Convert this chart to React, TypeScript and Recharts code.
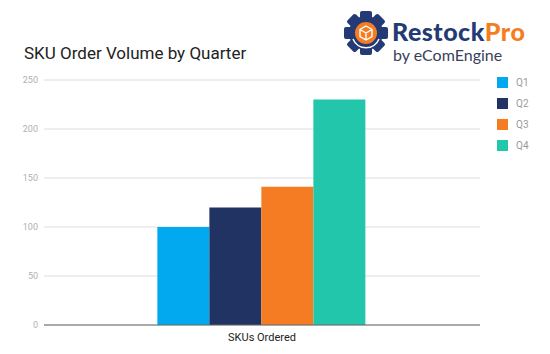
import { BarChart, Bar, XAxis, YAxis, CartesianGrid, Legend } from 'recharts';

const categories = ['SKUs Ordered'];
const quarters = ['Q1', 'Q2', 'Q3', 'Q4'];
const q1Values = [100];
const q2Values = [120];
const q3Values = [141];
const q4Values = [230];
const yTicks = [0, 50, 100, 150, 200, 250];

const colors: Record<string, string> = {
  Q1: '#03a9ee',
  Q2: '#213362',
  Q3: '#f57c22',
  Q4: '#22c6aa',
};

const data = categories.map((name, i) => ({
  name,
  Q1: q1Values[i],
  Q2: q2Values[i],
  Q3: q3Values[i],
  Q4: q4Values[i],
}));

const FONT = 'Roboto, "Noto Sans", sans-serif';

function QuarterLegend(props: any) {
  const payload = props.payload || [];
  return (
    <div style={{ fontFamily: FONT }}>
      {payload.map((p: any) => (
        <div key={p.value} style={{ display: 'flex', alignItems: 'center', height: 21 }}>
          <span style={{ width: 11, height: 11, background: p.color, display: 'inline-block' }} />
          <span style={{ marginLeft: 8, fontSize: 10, color: '#9a9a9a' }}>{p.value}</span>
        </div>
      ))}
    </div>
  );
}

function Logo() {
  const teeth = [0, 45, 90, 135, 180, 225, 270, 315];
  return (
    <svg width={200} height={70} style={{ position: 'absolute', left: 340, top: 0 }}>
      <g transform="translate(26,33)">
        {teeth.map((a) => (
          <rect key={a} x={-6} y={-22} width={12} height={10} rx={2} fill="#233a74" transform={`rotate(${a})`} />
        ))}
        <circle r={17} fill="#233a74" />
        <circle r={11} fill="#f57c22" />
        <path d="M0,-7 L6,-3.5 L6,3.5 L0,7 L-6,3.5 L-6,-3.5 Z M-6,-3.5 L0,0 L6,-3.5 M0,0 L0,7" fill="none" stroke="#fff" strokeWidth={1.4} />
        <path d="M-13,6 A14,14 0 0 0 13,6" fill="none" stroke="#fff" strokeWidth={1.5} />
      </g>
      <text x={52} y={41} fontFamily="Lato, sans-serif" fontWeight={900} fontSize={25} letterSpacing={0.5}>
        <tspan fill="#233a74">Restock</tspan>
        <tspan fill="#f57c22">Pro</tspan>
      </text>
      <text x={53} y={61} fontFamily="Lato, sans-serif" fontSize={16} fill="#3a3f5c">
        by eComEngine
      </text>
    </svg>
  );
}

export default function App() {
  return (
    <div style={{ position: 'absolute', left: 0, top: 0, width: 550, height: 354, background: '#fff' }}>
      <div
        style={{
          position: 'absolute',
          left: 24,
          top: 43,
          fontFamily: FONT,
          fontSize: 17,
          color: '#222',
          whiteSpace: 'nowrap',
        }}
      >
        SKU Order Volume by Quarter
      </div>
      <Logo />
      <div style={{ position: 'absolute', left: 0, top: 0 }}>
        <BarChart
          width={550}
          height={354}
          data={data}
          margin={{ top: 80, right: 20, bottom: 0, left: 0 }}
          barCategoryGap="26%"
          barGap={0}
        >
          <CartesianGrid vertical={false} stroke="#dcdcdc" />
          <XAxis
            dataKey="name"
            tickLine={false}
            axisLine={{ stroke: '#666' }}
            tickSize={6}
            tickMargin={2}
            height={29}
            tick={{ fontSize: 11, fill: '#222', fontFamily: FONT }}
          />
          <YAxis
            width={44}
            domain={[0, 250]}
            ticks={yTicks}
            axisLine={false}
            tickLine={false}
            tickSize={4}
            tickMargin={2}
            tick={{ fontSize: 9, fill: '#b0b0b0', fontFamily: FONT }}
          />
          <Legend
            layout="vertical"
            align="right"
            verticalAlign="top"
            content={<QuarterLegend />}
            wrapperStyle={{ position: 'absolute', left: 497, top: 72, width: 50 }}
          />
          {quarters.map((q) => (
            <Bar key={q} dataKey={q} fill={colors[q]} isAnimationActive={false} />
          ))}
        </BarChart>
      </div>
    </div>
  );
}
